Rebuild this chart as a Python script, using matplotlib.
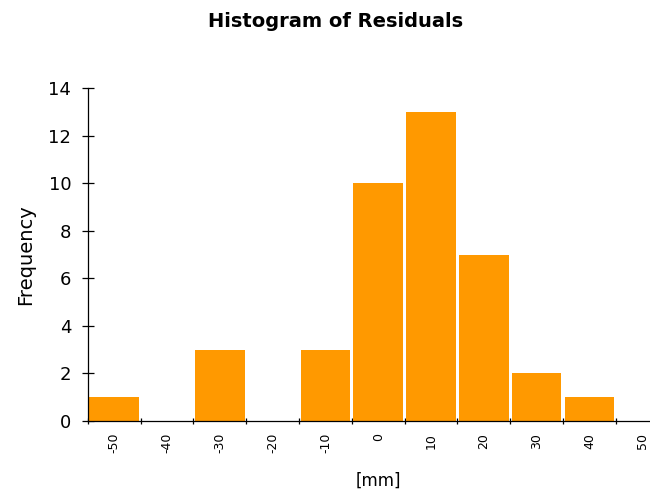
import matplotlib
matplotlib.use("Agg")
import matplotlib.pyplot as plt
import numpy as np

# residual bins [mm] and counts
bins = [-50, -40, -30, -20, -10, 0, 10, 20, 30, 40, 50]
counts = [1, 0, 3, 0, 3, 10, 13, 7, 2, 1, 0]
yticks = [0, 2, 4, 6, 8, 10, 12, 14]

fig = plt.figure(figsize=(6.5, 4.95), dpi=100)
# axes run a little past the right edge of the picture, like the original
ax = fig.add_axes([87.7 / 650, 1 - 421 / 495, 581 / 650, 333 / 495])

x = np.arange(len(bins))
ax.bar(x, counts, width=0.94, color="#FF9900", edgecolor="none", zorder=2)

ax.set_xlim(-0.5, len(bins) - 0.5)
ax.set_ylim(0, 14)

for s in ["top", "right"]:
    ax.spines[s].set_visible(False)
for s in ["left", "bottom"]:
    ax.spines[s].set_linewidth(0.9)
    ax.spines[s].set_zorder(3)

ax.set_yticks(yticks)
ax.tick_params(axis="y", direction="inout", length=8.6, width=0.9,
               labelsize=13, pad=7.5)

ax.set_xticks(x)
ax.set_xticklabels([str(b) for b in bins], rotation=90, fontsize=9)
ax.set_xticks(np.append(x - 0.5, x[-1] + 0.5), minor=True)
ax.tick_params(axis="x", which="major", length=0, pad=8.6)
ax.tick_params(axis="x", which="minor", direction="inout", length=5, width=0.9)

ax.set_ylabel("Frequency", fontsize=14)
ax.yaxis.set_label_coords((35 - 87.7) / 581, 0.5)
ax.set_xlabel("[mm]", fontsize=12)
ax.xaxis.set_label_coords(0.5, -(472 - 421) / 333)
ax.xaxis.label.set_va("top")

fig.text(336 / 650, 1 - 27 / 495, "Histogram of Residuals", ha="center",
         va="baseline", fontsize=14, fontweight="bold")

fig.savefig("out.png", dpi=100)
